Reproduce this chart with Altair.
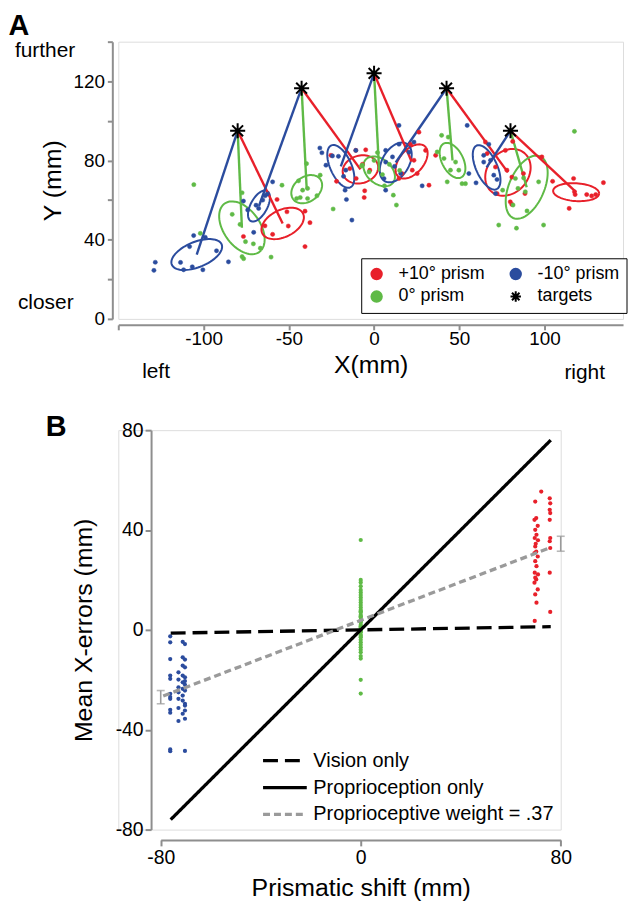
import altair as alt
import numpy as np
import pandas as pd

FONT = "Liberation Sans"
RED = "#e8202a"
BLUE = "#2b4c9e"
GREEN = "#5fba46"
AXIS_GRAY = "#8e8e8e"
MODEL_GRAY = "#9a9a9a"

# ---------------- Panel A data (mm) ----------------
group_names = ["+10° prism", "0° prism", "-10° prism", "targets"]   # legend order (2 columns)
target_x = [-80, -42.5, 0, 42.5, 80]
target_y = [95, 116.5, 124, 116.5, 95]

red_x = [-76.6, -59.5, -50.3, -51.1, -40.5, -37.6, -40.5, -56.9, -64.0,
         -25.3, -10.7, -4.9, -14.2, -6.8, -2.5, -22.0, -10.5, -5.5, -5.8,
         26.3, 21.4, 23.4, 22.4, 16.4, 14.6, 30.2, 32.2, 36.1, 25.3,
         65.3, 66.3, 77.0, 81.3, 71.2, 77.9, 80.8, 87.6, 88.5, 79.9, 80.8, 72.1,
         104.7, 117.0, 134.5, 117.5, 117.9, 124.7, 127.6, 130.0, 114.4, 98.4]
red_y = [41.6, 42.7, 46.9, 54.1, 54.4, 48.6, 36.5, 60.3, 47.0,
         82.6, 85.1, 85.4, 75.9, 78.1, 75.1, 69.5, 70.9, 64.7, 61.3,
         94.3, 88.2, 80.1, 75.1, 73.4, 70.9, 85.1, 67.5, 82.6, 73.4,
         89.3, 83.5, 85.1, 89.6, 76.7, 75.1, 71.6, 73.4, 63.3, 59.1, 57.8, 63.3,
         69.5, 70.9, 68.8, 64.2, 62.8, 62.8, 62.1, 62.8, 55.8, 81.8]

blue_x = [-128.3, -129.1, -113.5, -111.7, -106.6, -100.4, -108.2, -105.8, -99.0, -92.4, -85.4,
          -59.5, -76.6, -74.1, -67.7, -65.3, -63.9, -69.2, -70.6, -62.7,
          -31.8, -30.6, -24.4, -20.9, -28.2, -16.6, -17.0, -13.0, -10.7, -17.9, -16.2,
          14.6, 6.8, 14.6, 10.8, 20.5, 6.8, 5.8, 6.8, 23.4, 28.2, 15.6, 12.0,
          54.6, 64.3, 67.3, 68.3, 64.3, 59.8, 70.2, 71.2, 55.6, 72.1]
blue_y = [28.6, 24.5, 28.5, 24.8, 26.3, 24.8, 36.5, 42.1, 41.2, 34.4, 28.8,
          69.2, 59.5, 55.0, 55.8, 60.0, 62.2, 57.4, 43.7, 63.0,
          86.3, 83.9, 82.3, 82.1, 77.6, 75.1, 65.0, 49.9, 85.1, 72.0, 60.3,
          97.7, 85.1, 88.2, 81.8, 84.2, 79.2, 70.9, 65.0, 89.3, 67.2, 73.4, 77.0,
          97.7, 82.6, 88.2, 80.1, 79.2, 68.7, 72.6, 63.3, 73.4, 70.4]

green_x = [-105.7, -101.9, -83.2, -77.4, -78.6, -75.4, -70.8, -66.7, -77.4, -76.5, -60.4,
           -39.6, -44.3, -41.9, -39.0, -45.4, -43.3, -39.0, -33.5, -54.0, -31.6,
           -6.8, -2.9, 0.0, 4.9, 6.1, 11.3, 13.1, -7.4, 9.0, 15.0, -24.0, 2.0,
           39.6, 43.5, 37.0, 41.0, 47.8, 44.8, 49.7, 42.9, 51.6, 53.6,
           117.5, 82.9, 87.7, 84.4, 88.7, 96.5, 89.7, 73.1, 83.5, 99.4, 81.5, 75.4]
green_y = [67.8, 43.2, 52.8, 63.7, 47.7, 39.0, 37.9, 35.7, 31.4, 30.4, 31.2,
           78.4, 69.7, 65.0, 65.9, 60.8, 61.3, 60.8, 62.2, 67.5, 72.6,
           77.6, 74.2, 80.0, 72.9, 67.2, 62.5, 57.5, 77.2, 78.0, 75.0, 55.5, 84.0,
           92.7, 91.8, 84.3, 81.0, 79.2, 75.1, 75.1, 69.2, 68.3, 68.3,
           94.7, 70.9, 71.2, 65.9, 64.2, 69.2, 54.5, 47.4, 45.8, 47.4, 57.5, 65.0]

# ellipse (group mean, spread) per target and prism condition
ell_target = [0, 0, 0, 1, 1, 1, 2, 2, 2, 3, 3, 3, 4, 4, 4]
ell_group = ["-10° prism", "0° prism", "+10° prism"] * 5
ell_cx = [-104.0, -77.5, -53.6, -67.5, -39.5, -8.0, -19.5, 3.0, 22.0, 12.7, 46.0, 78.5, 66.0, 89.5, 118.5]
ell_cy = [32.5, 46.0, 48.2, 57.0, 65.5, 75.5, 77.0, 74.5, 79.5, 79.0, 80.0, 74.0, 76.5, 66.5, 64.0]
ell_a = [15.5, 16.0, 13.0, 9.0, 9.5, 10.5, 12.0, 10.0, 11.0, 11.5, 10.0, 14.0, 12.5, 17.5, 13.5]
ell_b = [6.5, 10.0, 7.0, 4.7, 6.5, 7.0, 6.0, 6.5, 6.5, 7.5, 6.0, 11.0, 6.0, 10.0, 4.5]
ell_angle = [18, -45, 20, 55, 25, 10, -60, -30, 40, 50, -55, 30, -60, 60, -3]

# ---------------- Panel B data (mm) ----------------
model_names = ["Vision only", "Proprioception only", "Proprioceptive weight = .37"]
vision_x = [-76, 76]
vision_y = [-1.3, 1.3]
proprio_x = [-76, 76]
proprio_y = [-76, 76]
weight_x = [-79, 76]
weight_y = [-26.5, 33]

blue_b_x = [-76.2, -76.2, -76.2, -76.2, -76.2, -76.2, -76.2, -76.2, -76.2, -76.2, -76.2, -76.2,
            -71.2, -70.3, -71.2, -70.3, -71.2, -70.3, -72.9, -71.2, -70.3, -72.9, -71.2, -70.3,
            -72.9, -71.2, -70.3, -72.9, -71.2, -72.9, -71.2, -70.3, -70.3, -72.9, -70.3, -71.2,
            -70.3, -72.9, -70.3, -70.3]
blue_b_y = [-2.6, -5.0, -11.7, -18.3, -19.6, -25.6, -26.9, -27.6, -32.0, -33.2, -47.9, -48.6,
            -4.8, -5.7, -11.0, -11.9, -14.3, -15.0, -17.0, -18.3, -19.0, -19.9, -21.0, -22.0,
            -23.0, -23.6, -24.3, -25.0, -26.3, -27.6, -28.3, -29.6, -30.3, -31.3, -32.3, -33.6,
            -35.6, -36.5, -48.5, -20.5]
green_b_x = [0.0] * 41
green_b_y = [36, 20, 19, 17.5, 16, 15, 14, 13, 12, 11, 10, 9, 8, 7.5, 7, 6, 5.5, 5, 4, 3.5,
             3, 2, 1.5, 1, 0.5, 0, -0.5, -1, -2, -2.5, -3, -4, -5, -6, -7, -8, -9, -10.5,
             -11.5, -20, -25.5]
red_b_x = [69.8, 70.2, 69.5, 70.8, 69.8, 70.3, 69.6, 70.9, 69.8, 70.2, 69.5, 70.8, 69.8, 70.3,
           69.6, 70.9, 69.8, 70.2, 69.5, 70.8, 69.8, 70.3, 69.6, 70.0,
           75.6, 75.8, 75.6, 75.8, 75.6, 75.8, 75.6, 75.8, 75.6, 75.8, 72.2]
red_b_y = [51.4, 44.8, 44.1, 41.7, 40.1, 38.1, 36.8, 35.9, 33.4, 31.4, 30.8, 29.4, 27.5, 25.5,
           22.9, 22.2, 20.9, 20.2, 18.9, 16.2, 14.2, 10.9, 3.6, 34.5,
           52.7, 50.7, 48.1, 46.8, 44.1, 36.8, 35.5, 32.8, 22.9, 7.2, 55.4]
eb_x = [-80, 80]
eb_lo = [-29.6, 31.5]
eb_hi = [-24.3, 37.5]

# ---------------- build tables ----------------
pts_a = pd.DataFrame({
    "x": red_x + blue_x + green_x,
    "y": red_y + blue_y + green_y,
    "group": ["+10° prism"] * len(red_x) + ["-10° prism"] * len(blue_x) + ["0° prism"] * len(green_x),
})
tgt_a = pd.DataFrame({"x": target_x, "y": target_y, "group": "targets"})

ell_rows = []
line_rows = []
ts = np.linspace(0, 2 * np.pi, 73)
for i in range(len(ell_cx)):
    th = np.deg2rad(ell_angle[i])
    for k, t in enumerate(ts):
        ex = ell_cx[i] + ell_a[i] * np.cos(t) * np.cos(th) - ell_b[i] * np.sin(t) * np.sin(th)
        ey = ell_cy[i] + ell_a[i] * np.cos(t) * np.sin(th) + ell_b[i] * np.sin(t) * np.cos(th)
        ell_rows.append({"eid": i, "k": k, "x": ex, "y": ey, "group": ell_group[i]})
    j = ell_target[i]
    line_rows.append({"lid": i, "k": 0, "x": target_x[j], "y": target_y[j], "group": ell_group[i]})
    line_rows.append({"lid": i, "k": 1, "x": ell_cx[i], "y": ell_cy[i], "group": ell_group[i]})
ell_df = pd.DataFrame(ell_rows)
line_df = pd.DataFrame(line_rows)

model_df = pd.DataFrame({
    "x": vision_x + proprio_x + weight_x,
    "y": vision_y + proprio_y + weight_y,
    "k": [0, 1, 0, 1, 0, 1],
    "model": [model_names[0]] * 2 + [model_names[1]] * 2 + [model_names[2]] * 2,
})
pts_b = pd.DataFrame({
    "x": blue_b_x + green_b_x + red_b_x,
    "y": blue_b_y + green_b_y + red_b_y,
    "cond": ["minus"] * len(blue_b_x) + ["zero"] * len(green_b_x) + ["plus"] * len(red_b_x),
})
eb_df = pd.DataFrame({"x": eb_x, "lo": eb_lo, "hi": eb_hi})
cap_df = pd.DataFrame({"x": eb_x + eb_x, "y": eb_lo + eb_hi})

# ---------------- common styling ----------------
axis_style = dict(domainColor=AXIS_GRAY, domainWidth=2, tickColor=AXIS_GRAY, tickWidth=2,
                  labelColor="black", titleColor="black", labelFont=FONT, titleFont=FONT,
                  titleFontWeight="normal", grid=False, labelFlush=False)
hyphen = "datum.value < 0 ? '-' + abs(datum.value) : '' + datum.value"

def label(text, px, py, size, weight="normal", baseline="middle", align="left"):
    return alt.Chart(pd.DataFrame({"t": [text]})).mark_text(
        font=FONT, fontSize=size, fontWeight=weight, baseline=baseline, align=align, color="black"
    ).encode(x=alt.value(px), y=alt.value(py), text="t:N")

# ---------------- Panel A ----------------
xA = alt.X("x:Q", scale=alt.Scale(domain=[-150, 146], nice=False, zero=False),
           axis=alt.Axis(values=[-150, -100, -50, 0, 50, 100],
                         labelExpr="datum.value == -150 ? '' : (" + hyphen + ")",
                         title="X(mm)", titleFontSize=25, labelFontSize=19, tickSize=5,
                         labelPadding=0, titlePadding=4, offset=6, **axis_style))
yA = alt.Y("y:Q", scale=alt.Scale(domain=[0, 140], nice=False),
           axis=alt.Axis(values=[0, 20, 40, 60, 80, 100, 120, 140],
                         labelExpr="datum.value % 40 == 0 ? '' + datum.value : ''",
                         title="Y (mm)", titleFontSize=25, labelFontSize=19, tickSize=5,
                         labelPadding=3, titlePadding=7, offset=6, **axis_style))

prism_color = alt.Color("group:N", scale=alt.Scale(domain=["+10° prism", "-10° prism", "0° prism"],
                                                   range=[RED, BLUE, GREEN]), legend=None)
asterisk = "M-1,0L1,0M0,-1L0,1M-0.72,-0.72L0.72,0.72M-0.72,0.72L0.72,-0.72"
legA = alt.Legend(title=None, orient="none", legendX=244.5, legendY=218, columns=2,
                  columnPadding=21, rowPadding=3, padding=6.5, strokeColor="black",
                  fillColor="white", labelFontSize=18, labelFont=FONT, labelColor="black",
                  labelOffset=13, symbolSize=110, symbolStrokeWidth=2, labelLimit=300)
group_colors = [RED, GREEN, BLUE, "black"]
fill_enc = alt.Fill("group:N", scale=alt.Scale(domain=group_names, range=group_colors), legend=legA)
stroke_enc = alt.Stroke("group:N", scale=alt.Scale(domain=group_names, range=group_colors), legend=legA)
shape_enc = alt.Shape("group:N", scale=alt.Scale(domain=group_names, range=["circle", "circle", "circle", asterisk]), legend=legA)

ellA = alt.Chart(ell_df).mark_line(strokeWidth=2).encode(
    x=xA, y=yA, detail="eid:N", order="k:Q", color=prism_color)
linA = alt.Chart(line_df).mark_line(strokeWidth=2.4).encode(
    x=xA, y=yA, detail="lid:N", order="k:Q", color=prism_color)
ptsA = alt.Chart(pts_a).mark_point(filled=True, size=18, opacity=1, strokeWidth=0.5).encode(
    x=xA, y=yA, fill=fill_enc, stroke=stroke_enc, shape=shape_enc)
tgtA = alt.Chart(tgt_a).mark_point(filled=False, size=230, opacity=1, strokeWidth=2).encode(
    x=xA, y=yA, fill=fill_enc, stroke=stroke_enc, shape=shape_enc)

panelA = alt.layer(
    ellA, linA, ptsA, tgtA,
    label("A", -110.5, -30, 29, weight="bold", baseline="top"),
    label("further", -104, 9, 21),
    label("closer", -101, 263, 21),
    label("left", 24, 332.5, 21),
    label("right", 449, 334, 21),
).properties(width=508, height=279)

# ---------------- Panel B ----------------
xB = alt.X("x:Q", scale=alt.Scale(domain=[-80, 80], range=[42.7, 445.3], nice=False, zero=False),
           axis=alt.Axis(values=[-80, 0, 80], labelExpr=hyphen, title="Prismatic shift (mm)",
                         titleFontSize=25, labelFontSize=19.5, tickSize=6, labelPadding=3,
                         titlePadding=8, offset=10.4, **axis_style))
yB = alt.Y("y:Q", scale=alt.Scale(domain=[-80, 80], nice=False),
           axis=alt.Axis(values=[-80, -40, 0, 40, 80], labelExpr=hyphen, title="Mean X-errors (mm)",
                         titleFontSize=25, labelFontSize=19.5, tickSize=6, labelPadding=2,
                         titlePadding=19, offset=-33, **axis_style))

legB = alt.Legend(title=None, orient="none", legendX=154.7, legendY=319.7, direction="vertical",
                  labelFontSize=20, labelFont=FONT, labelColor="black", labelOffset=15.6,
                  symbolType="M-2,0L2,0", symbolSize=484, symbolStrokeWidth=3.3,
                  rowPadding=4, padding=0, labelLimit=400)
model_color = alt.Color("model:N", scale=alt.Scale(domain=model_names, range=["black", "black", MODEL_GRAY]),
                        legend=legB)
model_dash = alt.StrokeDash("model:N", scale=alt.Scale(domain=model_names, range=[[15, 7], [1, 0], [7, 4]]),
                            legend=legB)

ptsB = alt.Chart(pts_b).mark_circle(size=18, opacity=1).encode(
    x=xB, y=yB,
    fill=alt.Fill("cond:N", scale=alt.Scale(domain=["minus", "zero", "plus"], range=[BLUE, GREEN, RED]),
                  legend=None))
modB = alt.Chart(model_df).mark_line(strokeWidth=3.3).encode(
    x=xB, y=yB, order="k:Q", color=model_color, strokeDash=model_dash)
ebB = alt.Chart(eb_df).mark_rule(color=MODEL_GRAY, strokeWidth=1.6).encode(
    x=xB, y=alt.Y("lo:Q", scale=alt.Scale(domain=[-80, 80], nice=False)), y2="hi:Q")
capB = alt.Chart(cap_df).mark_tick(color=MODEL_GRAY, thickness=1.6, size=8, orient="horizontal").encode(
    x=xB, y=yB)

panelB = alt.layer(
    ptsB, modB, ebB, capB,
    label("B", -73, -17, 29, weight="bold", baseline="top"),
).properties(width=445.3, height=402)

indep = dict(color="independent", fill="independent", stroke="independent",
             shape="independent", strokeDash="independent")
chart = alt.vconcat(panelA, panelB, spacing=112, bounds="flush", padding=0).resolve_scale(
    x="independent", y="independent", **indep).resolve_legend(**indep).configure_view(
    stroke=None).configure(font=FONT)

chart.save("out.html", embed_options={"renderer": "svg", "actions": False})
